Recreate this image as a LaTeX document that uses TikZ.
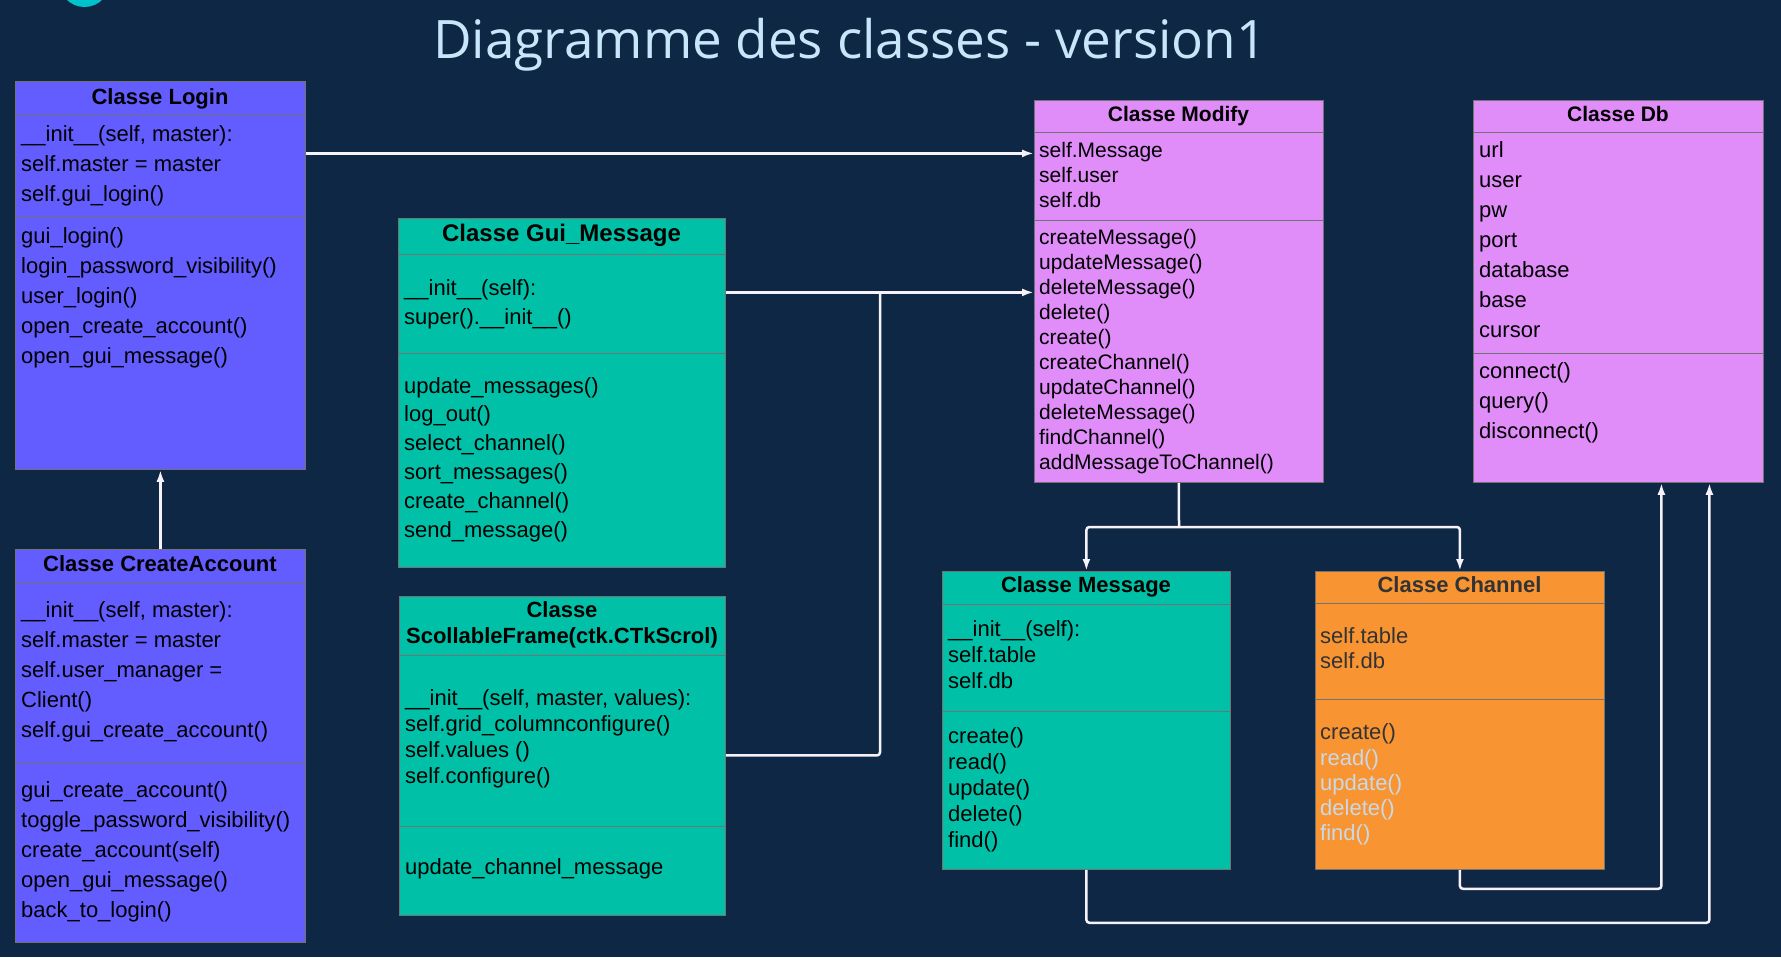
\documentclass[tikz,border=0pt]{standalone}
\usepackage{fontspec}
\setmainfont{Liberation Sans}
\newfontfamily\titlefont{Open Sans}
\usetikzlibrary{arrows.meta}

\definecolor{bgc}{HTML}{0E2745}
\definecolor{loginc}{HTML}{635CFF}
\definecolor{tealc}{HTML}{00C1A7}
\definecolor{pinkc}{HTML}{E08CF9}
\definecolor{orangec}{HTML}{F99433}
\definecolor{titlec}{HTML}{C8E6FA}
\definecolor{dotc}{HTML}{00C2CC}
\definecolor{linec}{HTML}{F7F2FA}
\definecolor{grayc}{HTML}{333333}
\definecolor{fadec}{HTML}{C9D9E6}

\begin{document}
\begin{tikzpicture}[x=1bp, y=-1bp]

\tikzset{part/.style = {draw=black!55, line width=0.8bp, anchor=north west, inner sep=0pt, minimum width=290bp}}
\tikzset{txt/.style = {anchor=base west, inner sep=0pt, font=\fontsize{22bp}{26bp}\selectfont}}
\tikzset{small/.style = {txt, font=\fontsize{21bp}{25bp}\selectfont}}
\tikzset{head/.style = {anchor=base, inner sep=0pt, font=\bfseries\fontsize{22bp}{26bp}\selectfont}}
\tikzset{edge/.style = {->, > = {Latex[length=12bp, width=8bp]}, draw=linec, line width=2.5bp, rounded corners=3bp}}
\tikzset{link/.style = {draw=linec, line width=2.5bp, rounded corners=3bp}}

\fill[bgc] (0,0) rectangle (1781,957);
\useasboundingbox (0,0) rectangle (1781,957);
\node[circle, fill=dotc, inner sep=0pt, minimum size=50.8bp] (dot) at (84.5,-18.4) {};
\node[font=\titlefont\fontsize{53bp}{60bp}\selectfont, text=titlec, anchor=base] (title) at (850,58) {Diagramme des classes - version1};

%login
\node[part, fill=loginc, minimum height=34bp] (loginH) at (15,81) {};
\node[part, fill=loginc, minimum height=102bp] (loginA) at (15,115) {};
\node[part, fill=loginc, minimum height=252bp] (loginM) at (15,217) {};
\node[head] (loginT) at (160,104) {Classe Login};
\foreach \t [count=\i from 0] in {{\_\_init\_\_(self, master):}, self.master = master, self.gui\_login()}
  \node[txt] (loginA\i) at (21,141+30*\i) {\t};
\foreach \t [count=\i from 0] in {gui\_login(), login\_password\_visibility(), user\_login(), open\_create\_account(), open\_gui\_message()}
  \node[txt] (loginM\i) at (21,243+30*\i) {\t};

%create account
\node[part, fill=loginc, minimum height=33bp] (caH) at (15,549) {};
\node[part, fill=loginc, minimum height=180bp] (caA) at (15,582) {};
\node[part, fill=loginc, minimum height=180bp] (caM) at (15,762) {};
\node[head] (caT) at (160,571) {Classe CreateAccount};
\foreach \t [count=\i from 0] in {{\_\_init\_\_(self, master):}, self.master = master, self.user\_manager =, Client(), self.gui\_create\_account()}
  \node[txt] (caA\i) at (21,617+30*\i) {\t};
\foreach \t [count=\i from 0] in {gui\_create\_account(), toggle\_password\_visibility(), create\_account(self), open\_gui\_message(), back\_to\_login()}
  \node[txt] (caM\i) at (21,797+30*\i) {\t};

%gui message
\node[part, fill=tealc, minimum width=327bp, minimum height=36bp] (guiH) at (398,218) {};
\node[part, fill=tealc, minimum width=327bp, minimum height=99bp] (guiA) at (398,254) {};
\node[part, fill=tealc, minimum width=327bp, minimum height=214bp] (guiM) at (398,353) {};
\node[head, font=\bfseries\fontsize{24bp}{28bp}\selectfont] (guiT) at (561.5,241) {Classe Gui\_Message};
\foreach \t [count=\i from 0] in {\_\_init\_\_(self):, super().\_\_init\_\_()}
  \node[txt] (guiA\i) at (404,295+29*\i) {\t};
\foreach \t [count=\i from 0] in {update\_messages(), log\_out(), select\_channel(), sort\_messages(), create\_channel(), send\_message()}
  \node[txt] (guiM\i) at (404,393+28.8*\i) {\t};

%scrollable frame
\node[part, fill=tealc, minimum width=326bp, minimum height=59bp] (scrollH) at (399,596) {};
\node[part, fill=tealc, minimum width=326bp, minimum height=171bp] (scrollA) at (399,655) {};
\node[part, fill=tealc, minimum width=326bp, minimum height=89bp] (scrollM) at (399,826) {};
\node[head] (scrollT1) at (562,617) {Classe};
\node[head] (scrollT2) at (562,643) {ScollableFrame(ctk.CTkScrol)};
\foreach \t [count=\i from 0] in {{\_\_init\_\_(self, master, values):}, self.grid\_columnconfigure(), self.values (), self.configure()}
  \node[txt] (scrollA\i) at (405,705+26.3*\i) {\t};
\node[txt] (scrollM0) at (405,874) {update\_channel\_message};

%modify
\node[part, fill=pinkc, minimum width=289bp, minimum height=32bp] (modH) at (1034,100) {};
\node[part, fill=pinkc, minimum width=289bp, minimum height=88bp] (modA) at (1034,132) {};
\node[part, fill=pinkc, minimum width=289bp, minimum height=262bp] (modM) at (1034,220) {};
\node[head, font=\bfseries\fontsize{21bp}{25bp}\selectfont] (modT) at (1178.5,121) {Classe Modify};
\foreach \t [count=\i from 0] in {self.Message, self.user, self.db}
  \node[small] (modA\i) at (1039,157+25*\i) {\t};
\foreach \t [count=\i from 0] in {createMessage(), updateMessage(), deleteMessage(), delete(), create(), createChannel(), updateChannel(), deleteMessage(), findChannel(), addMessageToChannel()}
  \node[small] (modM\i) at (1039,244+25*\i) {\t};

%db
\node[part, fill=pinkc, minimum height=32bp] (dbH) at (1473,100) {};
\node[part, fill=pinkc, minimum height=221bp] (dbA) at (1473,132) {};
\node[part, fill=pinkc, minimum height=129bp] (dbM) at (1473,353) {};
\node[head, font=\bfseries\fontsize{21bp}{25bp}\selectfont] (dbT) at (1618,121) {Classe Db};
\foreach \t [count=\i from 0] in {url, user, pw, port, database, base, cursor}
  \node[txt] (dbA\i) at (1479,157+30*\i) {\t};
\foreach \t [count=\i from 0] in {connect(), query(), disconnect()}
  \node[txt] (dbM\i) at (1479,378+30*\i) {\t};

%message
\node[part, fill=tealc, minimum width=288bp, minimum height=33bp] (msgH) at (942,571) {};
\node[part, fill=tealc, minimum width=288bp, minimum height=107bp] (msgA) at (942,604) {};
\node[part, fill=tealc, minimum width=288bp, minimum height=158bp] (msgM) at (942,711) {};
\node[head] (msgT) at (1086,592) {Classe Message};
\foreach \t [count=\i from 0] in {\_\_init\_\_(self):, self.table, self.db}
  \node[txt] (msgA\i) at (948,636+26*\i) {\t};
\foreach \t [count=\i from 0] in {create(), read(), update(), delete(), find()}
  \node[txt] (msgM\i) at (948,743+26.2*\i) {\t};

%channel
\node[part, fill=orangec, minimum width=289bp, minimum height=32bp] (chanH) at (1315,571) {};
\node[part, fill=orangec, minimum width=289bp, minimum height=96bp] (chanA) at (1315,603) {};
\node[part, fill=orangec, minimum width=289bp, minimum height=170bp] (chanM) at (1315,699) {};
\node[head, text=grayc] (chanT) at (1459.5,592) {Classe Channel};
\foreach \t [count=\i from 0] in {self.table, self.db}
  \node[txt, text=grayc] (chanA\i) at (1320,643+25*\i) {\t};
\node[txt, text=grayc] (chanM0) at (1320,739) {create()};
\foreach \t [count=\i from 1] in {read(), update(), delete(), find()}
  \node[txt, text=fadec] (chanM\i) at (1320,740+25*\i) {\t};

%connectors
\coordinate (join) at (880,292);
\coordinate (split) at (1179,527);
\draw[edge] ([yshift=13bp]loginA.east) -- ([yshift=13bp]loginA.east -| modA.west);
\draw[edge] ([yshift=11.5bp]guiA.east) -- ([yshift=11.5bp]guiA.east -| modM.west);
\draw[link] ([yshift=-14.5bp]scrollA.east) -| (join);
\draw[edge] (caH.north) -- (loginM.south);
\draw[link] (modM.south) -- (split);
\draw[edge] (split) -| (msgH.north);
\draw[edge] (split) -| (chanH.north);
\draw[edge] (chanM.south) -- ++(0,19) -| ([xshift=43bp]dbM.south);
\draw[edge] (msgM.south) -- ++(0,53) -| ([xshift=91bp]dbM.south);

\end{tikzpicture}
\end{document}
